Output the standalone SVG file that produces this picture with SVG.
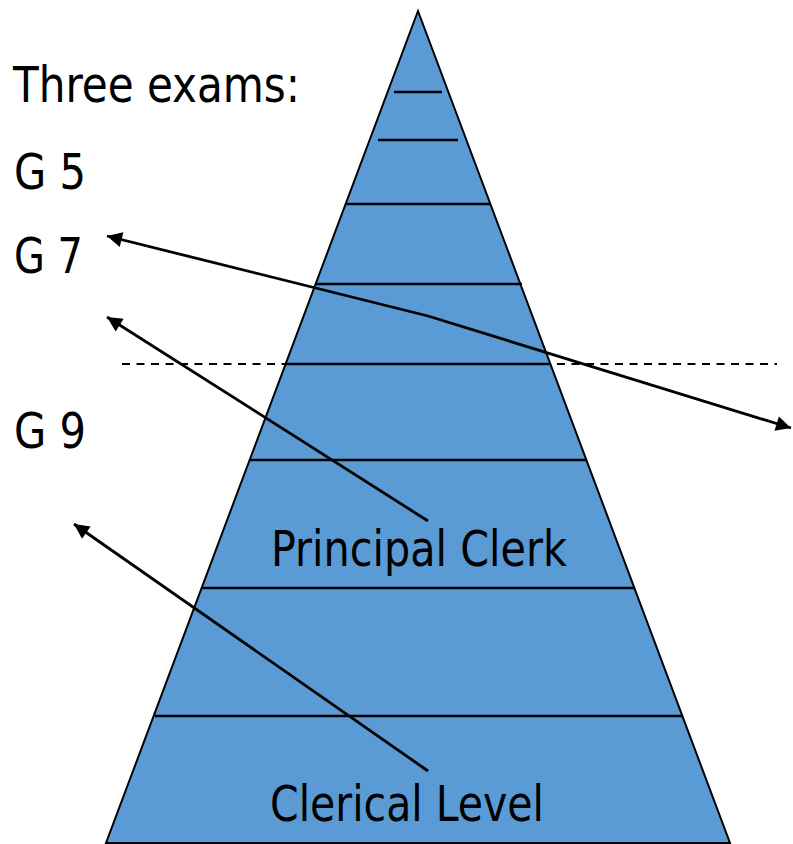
<svg xmlns="http://www.w3.org/2000/svg" width="793" height="844" viewBox="0 0 793 844">
  <style>
    .lbl { font-family: "DejaVu Sans Condensed", "DejaVu Sans", "Liberation Sans", sans-serif; font-size: 49px; fill: #000; }
    .tier { stroke: #000; stroke-width: 2.5; fill: none; }
    .conn { stroke: #000; stroke-width: 2.8; fill: none; }
  </style>
  <defs>
    <marker id="ah" viewBox="0 0 10 10" refX="10" refY="5" markerWidth="18" markerHeight="15" markerUnits="userSpaceOnUse" orient="auto-start-reverse">
      <path d="M0,0 L10,5 L0,10 Z" fill="#000"/>
    </marker>
  </defs>
  <rect width="793" height="844" fill="#fff"/>

  <g id="divider">
    <line x1="122" y1="364" x2="777" y2="364" stroke="#000" stroke-width="2" stroke-dasharray="8,6.5"/>
  </g>

  <g id="pyramid">
    <polygon points="418,11 730,843 106,843" fill="#5b9bd5" stroke="#000" stroke-width="2"/>
    <line class="tier" x1="394" y1="92" x2="442" y2="92"/>
    <line class="tier" x1="378" y1="140" x2="458" y2="140"/>
    <line class="tier" x1="346" y1="204" x2="490" y2="204"/>
    <line class="tier" x1="316" y1="284" x2="522" y2="284"/>
    <line class="tier" x1="286" y1="364" x2="551" y2="364"/>
    <line class="tier" x1="250" y1="460" x2="587" y2="460"/>
    <line class="tier" x1="202" y1="588" x2="635" y2="588"/>
    <line class="tier" x1="155" y1="716" x2="683" y2="716"/>
  </g>

  <g id="label-three-exams"><text class="lbl" x="13" y="102" textLength="287" lengthAdjust="spacingAndGlyphs">Three exams:</text></g>
  <g id="label-g5"><text class="lbl" x="14" y="189" textLength="72" lengthAdjust="spacingAndGlyphs">G 5</text></g>
  <g id="label-g7"><text class="lbl" x="14" y="273" textLength="69" lengthAdjust="spacingAndGlyphs">G 7</text></g>
  <g id="label-g9"><text class="lbl" x="14" y="448" textLength="72" lengthAdjust="spacingAndGlyphs">G 9</text></g>
  <g id="label-principal-clerk"><text class="lbl" x="271" y="566" textLength="296" lengthAdjust="spacingAndGlyphs">Principal Clerk</text></g>
  <g id="label-clerical-level"><text class="lbl" x="270" y="821" textLength="274" lengthAdjust="spacingAndGlyphs">Clerical Level</text></g>

  <g id="connectors">
    <polyline class="conn" points="107,236 428,316 791,428" marker-start="url(#ah)" marker-end="url(#ah)"/>
    <line class="conn" x1="428" y1="521" x2="107" y2="317" marker-end="url(#ah)"/>
    <line class="conn" x1="428" y1="771" x2="74" y2="524" marker-end="url(#ah)"/>
  </g>
</svg>
